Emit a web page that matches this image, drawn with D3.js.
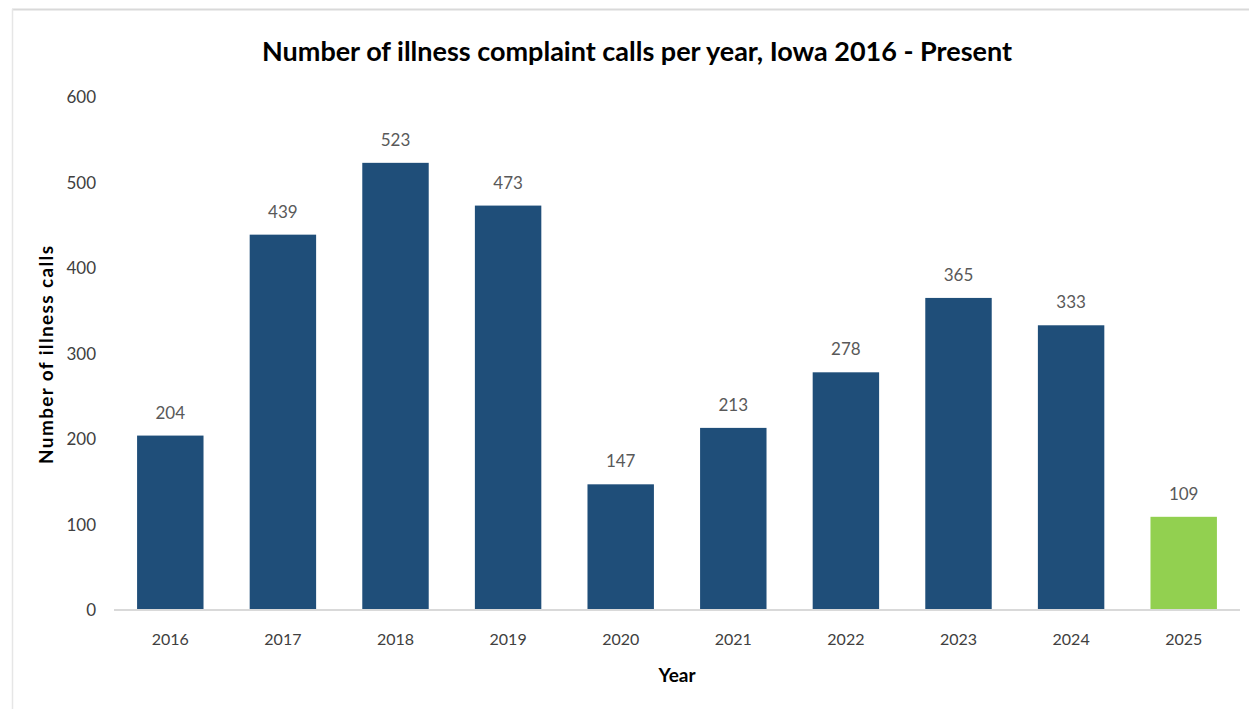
<!DOCTYPE html>
<html>
  <head>
    <meta charset="utf-8" />
    <script src="https://d3js.org/d3.v7.min.js"></script>
    <style>
      body { margin: 0; background: #fff; }
      text { font-family: Lato, "Open Sans", sans-serif; }
      .tick text { fill: #404040; font-size: 16px; }
      .label { fill: #595959; font-size: 17px; }
    </style>
  </head>
  <body>
    <svg id="chart" width="1249" height="711"></svg>
    <script>
      var years = ["2016", "2017", "2018", "2019", "2020", "2021", "2022", "2023", "2024", "2025"];
      var calls = [204, 439, 523, 473, 147, 213, 278, 365, 333, 109];
      var yTicks = [0, 100, 200, 300, 400, 500, 600];

      var svg = d3.select("#chart");

      // frame lines (top and left only visible in the original)
      svg.append("line").attr("x1", 12).attr("x2", 1249).attr("y1", 9.5).attr("y2", 9.5)
        .attr("stroke", "#d9d9d9").attr("stroke-width", 2);
      svg.append("line").attr("x1", 12.5).attr("x2", 12.5).attr("y1", 9).attr("y2", 709)
        .attr("stroke", "#e6e6e6").attr("stroke-width", 1.5);

      var x = d3.scaleBand()
        .domain(years)
        .range([114, 1240])
        .paddingInner(0.41)
        .paddingOuter(0.205);

      var y = d3.scaleLinear()
        .domain([0, 600])
        .range([610, 97]);

      // y axis labels, no line
      var yAxis = svg.append("g")
        .attr("transform", "translate(100,0)")
        .call(d3.axisLeft(y).tickValues(yTicks).tickSize(0).tickPadding(4));
      yAxis.select(".domain").remove();
      yAxis.selectAll(".tick text").attr("dy", "0.35em").style("font-size", "17px");

      // bars
      svg.selectAll(".bar")
        .data(calls)
        .enter().append("rect")
        .attr("class", "bar")
        .attr("x", function(d, i) { return x(years[i]); })
        .attr("y", function(d) { return y(d); })
        .attr("width", x.bandwidth())
        .attr("height", function(d) { return y(0) - y(d); })
        .attr("fill", function(d, i) { return years[i] === "2025" ? "#92d050" : "#1f4e79"; });

      // x axis
      var xAxis = svg.append("g")
        .attr("transform", "translate(0,610)")
        .call(d3.axisBottom(x).tickSize(0).tickPadding(24));
      xAxis.select(".domain").attr("stroke", "#d9d9d9").attr("stroke-width", 2)
        .attr("d", "M114,0H1240");

      // value labels
      svg.selectAll(".label")
        .data(calls)
        .enter().append("text")
        .attr("class", "label")
        .attr("x", function(d, i) { return x(years[i]) + x.bandwidth() / 2; })
        .attr("y", function(d) { return y(d) - 17; })
        .attr("text-anchor", "middle")
        .text(function(d) { return d; });

      // title
      svg.append("text")
        .attr("x", 637)
        .attr("y", 61)
        .attr("text-anchor", "middle")
        .attr("font-size", 27)
        .attr("font-weight", "bold")
        .attr("fill", "#000")
        .attr("textLength", 750)
        .text("Number of illness complaint calls per year, Iowa 2016 - Present");

      // axis titles
      svg.append("text")
        .attr("transform", "translate(53,355) rotate(-90)")
        .attr("text-anchor", "middle")
        .attr("font-size", 19)
        .attr("font-weight", "bold")
        .attr("fill", "#000")
        .attr("textLength", 218)
        .text("Number of illness calls");

      svg.append("text")
        .attr("x", 677)
        .attr("y", 682)
        .attr("text-anchor", "middle")
        .attr("font-size", 19)
        .attr("font-weight", "bold")
        .attr("fill", "#000")
        .text("Year");
    </script>
  </body>
</html>
